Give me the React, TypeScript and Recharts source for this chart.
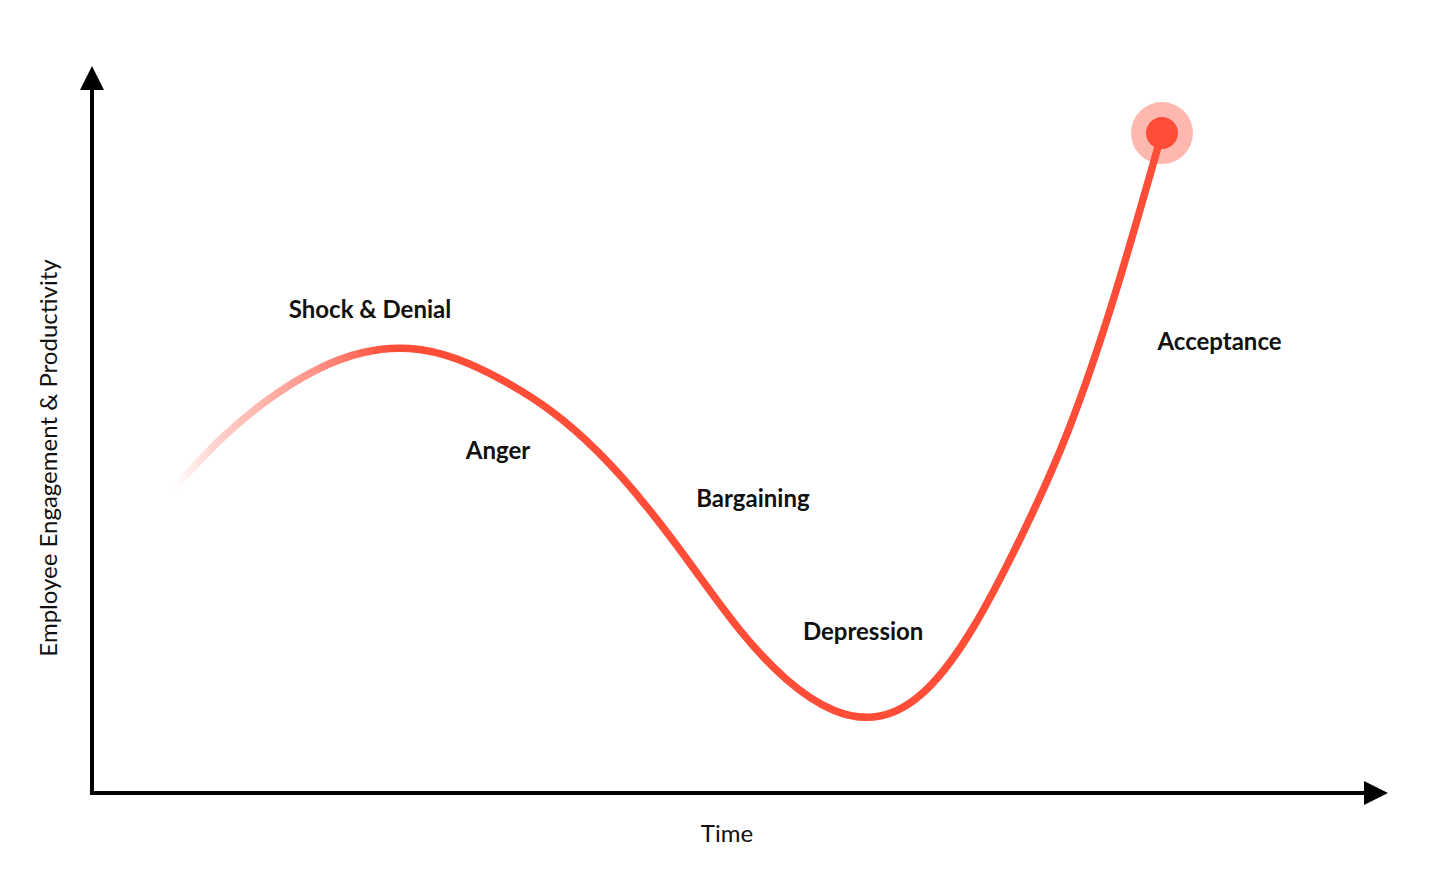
import { LineChart, Line, XAxis, YAxis, ReferenceLine, ReferenceDot } from 'recharts';

// change curve: time (0-100) vs engagement (0-100) at even time steps
const times = [6.4, 10.03, 13.66, 17.28, 20.91, 24.54, 28.16, 31.79, 35.42, 39.04, 42.67, 46.3, 49.92, 53.55, 57.18, 60.8, 64.43, 68.06, 71.68, 75.31, 78.94, 82.56];
const engagement = [42.09, 48.83, 54.2, 58.18, 60.59, 61.14, 59.7, 56.67, 52.54, 46.91, 39.68, 31.2, 22.56, 15.68, 11.42, 10.59, 14.31, 22.97, 35.21, 49.79, 68.64, 90.78];

const stages = ['Shock & Denial', 'Anger', 'Bargaining', 'Depression', 'Acceptance'];
const stageAnchorX = [21.45, 31.33, 51.0, 59.5, 87.0];
const stageAnchorY = [66.7, 47.2, 40.6, 22.3, 62.2];

const xTitle = 'Time';
const yTitle = 'Employee Engagement & Productivity';

const data = times.map((t, i) => ({ t, engagement: engagement[i] }));
const RED = '#FF4D38';
const FONT = 'Lato, "Noto Sans", sans-serif';

const Arrow = (props: any) => {
  const { x1, y1, x2, y2 } = props;
  const dx = x2 - x1;
  const dy = y2 - y1;
  const len = Math.sqrt(dx * dx + dy * dy) || 1;
  const ux = dx / len;
  const uy = dy / len;
  const head = 24;
  const half = 12;
  const bx = x2 - ux * head;
  const by = y2 - uy * head;
  return (
    <g>
      <line x1={x1 - ux * 2} y1={y1 - uy * 2} x2={bx} y2={by} stroke="#000" strokeWidth={4} />
      <polygon
        points={`${x2},${y2} ${bx - uy * half},${by + ux * half} ${bx + uy * half},${by - ux * half}`}
        fill="#000"
      />
    </g>
  );
};

const StageText = (label: string) => (props: any) => (
  <text
    x={props.cx}
    y={props.cy}
    textAnchor="middle"
    dominantBaseline="central"
    fontFamily={FONT}
    fontWeight={700}
    fontSize={24}
    fill="#111"
  >
    {label}
  </text>
);

const EndDot = (props: any) => {
  const { cx, cy, index } = props;
  if (index !== data.length - 1) return <g key={`d-${index}`} />;
  return (
    <g key={`d-${index}`}>
      <circle cx={cx} cy={cy} r={31} fill={RED} fillOpacity={0.4} />
      <circle cx={cx} cy={cy} r={16} fill={RED} />
    </g>
  );
};

export default function App() {
  return (
    <div style={{ position: 'absolute', left: 0, top: 0, width: 1440, height: 890, background: '#fff' }}>
      <LineChart width={1440} height={890} data={data} margin={{ top: 66, right: 52, bottom: 97, left: 92 }}>
        <defs>
          <linearGradient id="fadeIn" x1="0" y1="0" x2="1" y2="0">
            <stop offset="0" stopColor={RED} stopOpacity={0} />
            <stop offset="0.04" stopColor={RED} stopOpacity={0.25} />
            <stop offset="0.14" stopColor={RED} stopOpacity={0.6} />
            <stop offset="0.22" stopColor={RED} stopOpacity={1} />
            <stop offset="1" stopColor={RED} stopOpacity={1} />
          </linearGradient>
        </defs>
        <XAxis type="number" dataKey="t" domain={[0, 100]} hide />
        <YAxis type="number" domain={[0, 100]} hide />
        <ReferenceLine segment={[{ x: 0, y: 0 }, { x: 0, y: 100 }]} shape={Arrow} />
        <ReferenceLine segment={[{ x: 0, y: 0 }, { x: 100, y: 0 }]} shape={Arrow} />
        {stages.map((s, i) => (
          <ReferenceDot key={s} x={stageAnchorX[i]} y={stageAnchorY[i]} r={0} shape={StageText(s)} />
        ))}
        <Line
          type="natural"
          dataKey="engagement"
          stroke="url(#fadeIn)"
          strokeWidth={7.5}
          strokeLinecap="round"
          dot={EndDot}
          activeDot={false}
          isAnimationActive={false}
        />
        <text x={727} y={832} textAnchor="middle" dominantBaseline="central" fontFamily={FONT} fontSize={24} fill="#111">
          {xTitle}
        </text>
        <text
          x={47}
          y={458}
          transform="rotate(-90 47 458)"
          textAnchor="middle"
          dominantBaseline="central"
          fontFamily={FONT}
          fontSize={24}
          fill="#111"
        >
          {yTitle}
        </text>
      </LineChart>
    </div>
  );
}
